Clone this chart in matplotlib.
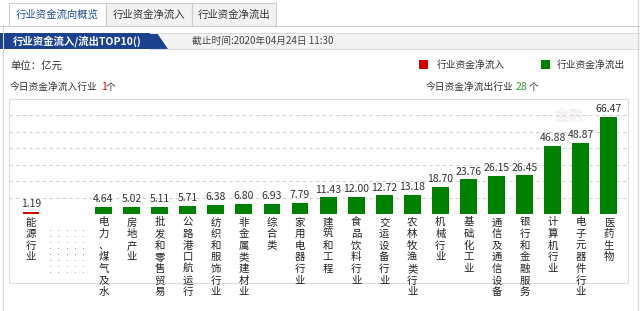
import numpy as np
import matplotlib
matplotlib.use('Agg')
import matplotlib.pyplot as plt
from matplotlib.patches import Rectangle, Polygon
from matplotlib.transforms import blended_transform_factory

plt.rcParams['font.family'] = ['Noto Sans CJK SC', 'DejaVu Sans']

# 数据 ---------------------------------------------------------------
inflow_names = ['能源行业']
inflow_values = [1.19]
outflow_names = ['电力、煤气及水', '房地产业', '批发和零售贸易', '公路港口航运行', '纺织和服饰行业',
                 '非金属类建材业', '综合类', '家用电器行业', '建筑和工程', '食品饮料行业',
                 '交运设备行业', '农林牧渔类行业', '机械行业', '基础化工业', '通信及通信设备',
                 '银行和金融服务', '计算机行业', '电子元器件行业', '医药生物']
outflow_values = [4.64, 5.02, 5.11, 5.71, 6.38, 6.80, 6.93, 7.79, 11.43, 12.00,
                  12.72, 13.18, 18.70, 23.76, 26.15, 26.45, 46.88, 48.87, 66.47]
n_inflow = 1
n_outflow = 28
update_time = '截止时间:2020年04月24日 11:30'

RED = '#d00000'
GREEN = '#008000'
W, H = 640, 311

fig = plt.figure(figsize=(W / 100, H / 100), dpi=100)

# 背景层 (像素坐标) -------------------------------------------------
bg = fig.add_axes([0, 0, 1, 1], zorder=0)
bg.set_xlim(0, W)
bg.set_ylim(H, 0)
bg.axis('off')

# 标签页
bg.plot([0, W], [25.5, 25.5], color='#cccccc', lw=0.8)
tabs = [('行业资金流向概览', 9, 97, 'white', '#1e4c9a'),
        ('行业资金净流入', 106, 86, '#f2f2f2', '#333333'),
        ('行业资金净流出', 192, 84, '#f2f2f2', '#333333')]
for txt, x0, w, fc, tc in tabs:
    bg.add_patch(Rectangle((x0, 3), w, 22.5, fc=fc, ec='#cccccc', lw=0.8))
    bg.text(x0 + w / 2, 14.5, txt, ha='center', va='center', fontsize=7.5, color=tc)

# 标题栏
bg.add_patch(Rectangle((150, 33), W - 150, 16, fc='#f3f3f3', ec='none'))
bg.plot([150, W], [33, 33], color='#dddddd', lw=0.8)
bg.plot([150, W], [49, 49], color='#dddddd', lw=0.8)
bg.add_patch(Polygon([(0, 33), (157, 33), (168, 49), (0, 49)], closed=True, fc='#1c428f', ec='none'))
bg.text(13, 41, '行业资金流入/流出TOP10()', ha='left', va='center', fontsize=7.5,
        color='white', fontweight='bold')
bg.text(192, 41, update_time, ha='left', va='center', fontsize=7, color='#444444')

# 单位 / 图例 / 统计
bg.text(10, 66.5, '单位：亿元', ha='left', va='center', fontsize=7.5, color='#333333')
bg.add_patch(Rectangle((419, 60), 9, 9, fc=RED, ec='none'))
bg.text(437, 64.5, '行业资金净流入', ha='left', va='center', fontsize=7, color='#333333')
bg.add_patch(Rectangle((541, 60), 9, 9, fc=GREEN, ec='none'))
bg.text(557, 64.5, '行业资金净流出', ha='left', va='center', fontsize=7, color='#333333')

bg.text(10, 87, '今日资金净流入行业', ha='left', va='center', fontsize=7, color='#333333')
bg.text(101, 87, str(n_inflow), ha='left', va='center', fontsize=7.5, color=RED)
bg.text(106, 87, '个', ha='left', va='center', fontsize=7, color='#333333')
bg.text(426, 87, '今日资金净流出行业', ha='left', va='center', fontsize=7, color='#333333')
bg.text(516, 87, str(n_outflow), ha='left', va='center', fontsize=7.5, color='#339933')
bg.text(529, 87, '个', ha='left', va='center', fontsize=7, color='#333333')

# 图表边框和外框
bg.add_patch(Rectangle((9, 98.5), 619, 184.5, fc='none', ec='#dddddd', lw=0.8))
bg.plot([2.5, 2.5], [25, H], color='#d5d5d5', lw=0.8)
bg.plot([637.5, 637.5], [0, H], color='#d5d5d5', lw=0.8)

# 水印
bg.text(569, 116, '金融', ha='center', va='center', fontsize=11, color='#f4eeee', fontweight='bold')

# 空位的点阵
dx, dy = np.meshgrid(np.linspace(50, 83, 5), np.linspace(230, 272, 8))
bg.scatter(dx.ravel(), dy.ravel(), s=0.5, color='#a0a0a0', lw=0)

# 柱状图 ---------------------------------------------------------------
slot = 28.08      # 每个类别的像素宽
red_px = 31       # 第一根柱子的中心
gap = 2.58        # 流入与流出之间的空隙(类别数)
ax = fig.add_axes([9 / W, (H - 214) / H, (628 - 9) / W, (214 - 115) / H], zorder=1)
ax.patch.set_alpha(0)
ax.set_xlim((9 - red_px) / slot, (628 - red_px) / slot)
ax.set_ylim(0, 68)

x_in = np.arange(len(inflow_values))
x_out = gap + np.arange(len(outflow_values))
ax.bar(x_in, inflow_values, width=0.6, color=RED)
ax.bar(x_out, outflow_values, width=0.6, color=GREEN)

ax.set_yticks(np.linspace(0, 68, 7))
ax.yaxis.grid(True, linestyle=(0, (3, 3)), color='#cfcfcf', lw=0.8)
ax.set_axisbelow(True)
ax.tick_params(length=0, labelleft=False, labelbottom=False)
for s in ax.spines.values():
    s.set_visible(False)

for x, v in zip(list(x_in) + list(x_out), inflow_values + outflow_values):
    ax.annotate(f'{v:.2f}', (x, v), xytext=(0, 2), textcoords='offset points',
                ha='center', va='bottom', fontsize=7.5, color='#333333')

# 竖排类别名
trans = blended_transform_factory(ax.transData, bg.transData)
for x, name in zip(list(x_in) + list(x_out), inflow_names + outflow_names):
    for j, ch in enumerate(name):
        ax.text(x, 222.5 + 11.6 * j, ch, transform=trans, ha='center', va='center',
                fontsize=7.5, color='#222222', clip_on=False)

fig.savefig('out.png', dpi=100)
